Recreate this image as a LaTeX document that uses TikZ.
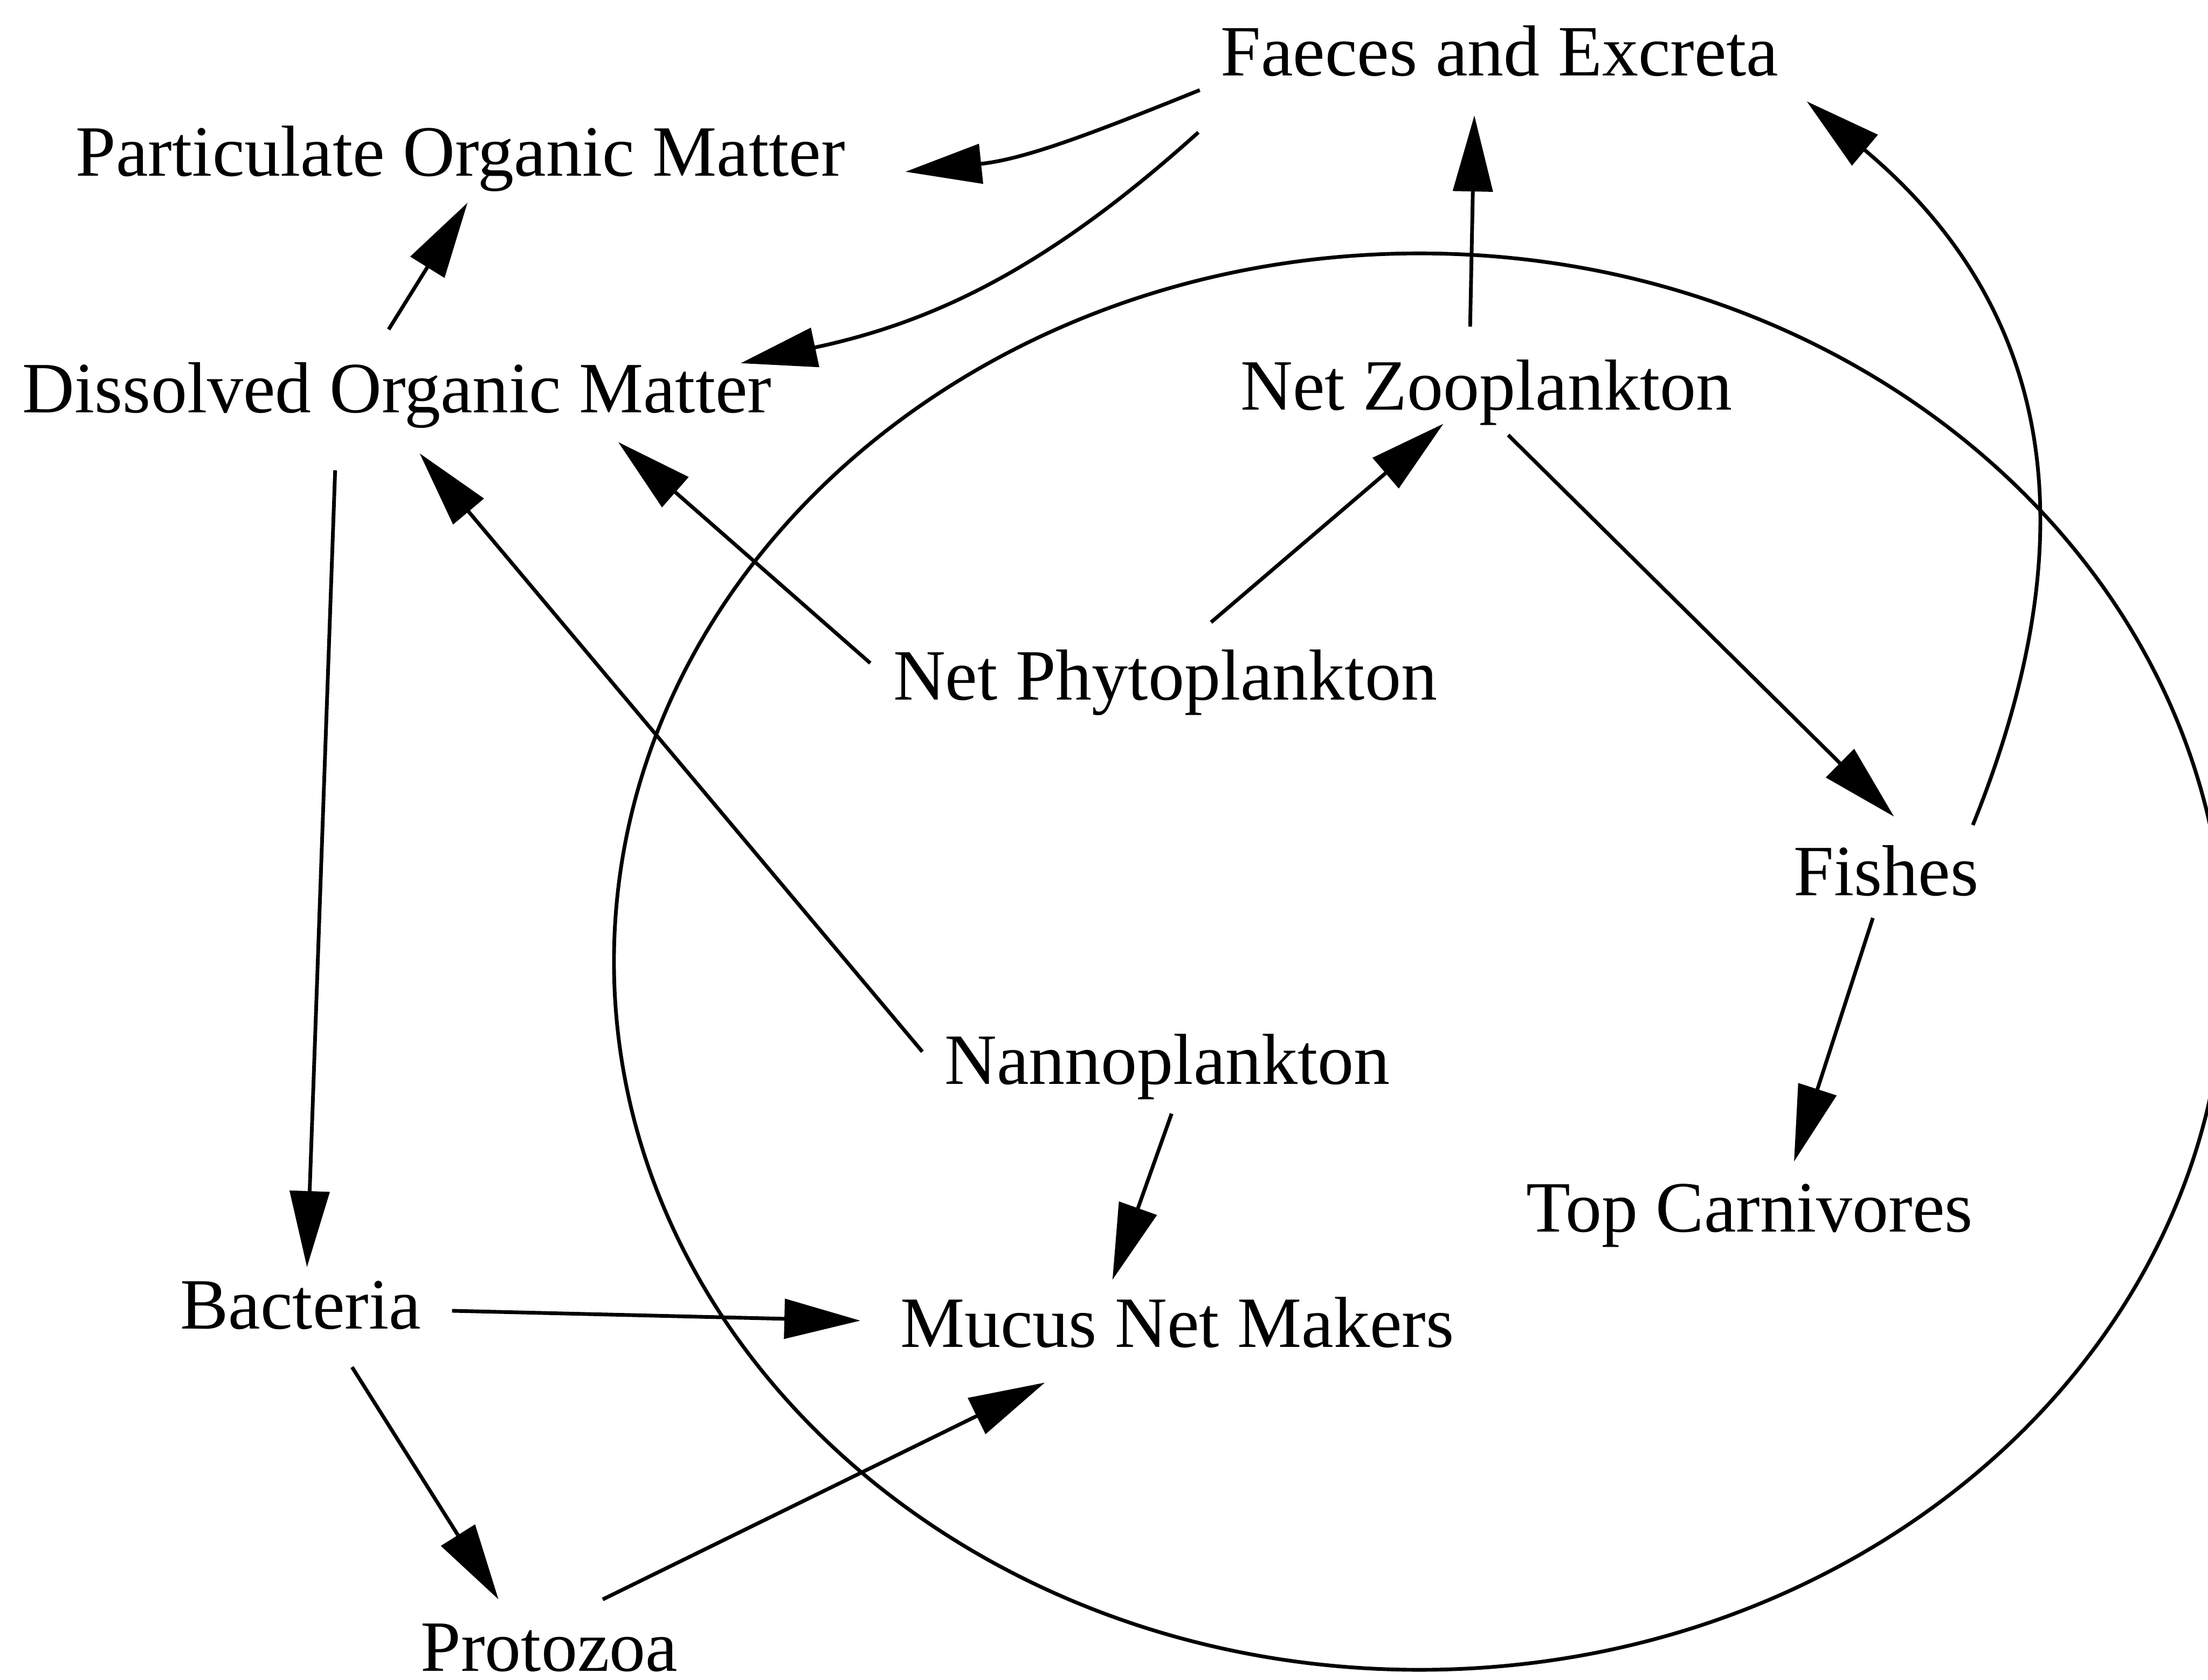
\documentclass[tikz,border=0pt]{standalone}
\usepackage{fontspec}
\setmainfont{Liberation Serif}
\usetikzlibrary{arrows.meta}

\tikzset{
  lbl/.style={anchor=base,inner sep=0pt,font=\fontsize{14.6pt}{17pt}\selectfont},
  arr/.style={line width=0.75pt,-{Triangle[length=5.4mm,width=2.8mm]}}
}

\begin{document}
\begin{tikzpicture}
      \useasboundingbox (0,0) rectangle (15.68,11.93);
      % the big ellipse
      \draw[line width=0.75pt] (10.08,5.10) ellipse [x radius=5.72,y radius=5.03];
      % labels
      \node[lbl] (fae) at (10.65,11.39) {Faeces and Excreta};
      \node[lbl] (pom) at (3.27,10.68) {Particulate Organic Matter};
      \node[lbl] (dom) at (2.82,9.00) {Dissolved Organic Matter};
      \node[lbl] (zoo) at (10.555,9.02) {Net Zooplankton};
      \node[lbl] (phy) at (8.275,6.96) {Net Phytoplankton};
      \node[lbl] (fish) at (13.395,5.57) {Fishes};
      \node[lbl] (nano) at (8.29,4.23) {Nannoplankton};
      \node[lbl] (top) at (12.425,3.18) {Top Carnivores};
      \node[lbl] (bac) at (2.135,2.49) {Bacteria};
      \node[lbl] (muc) at (8.36,2.36) {Mucus Net Makers};
      \node[lbl] (pro) at (3.90,0.06) {Protozoa};
      % arrows
      \draw[arr] ([shift={(-2.13,-0.10)}]fae.base) to[out=202,in=6] ([shift={(3.16,0.03)}]pom.base);
      \draw[arr] ([shift={(-2.14,-0.40)}]fae.base) to[out=222,in=12] ([shift={(2.44,0.35)}]dom.base);
      \draw[arr] ([shift={(-0.06,0.59)}]dom.base) -- ([shift={(0.05,-0.19)}]pom.base);
      \draw[arr] ([shift={(-0.115,0.59)}]zoo.base) -- ([shift={(-0.18,-0.28)}]fae.base);
      \draw[arr] ([shift={(0.615,0.50)}]fish.base) to[out=68,in=-40,looseness=1.1] ([shift={(2.18,-0.18)}]fae.base);
      \draw[arr] ([shift={(-2.095,0.26)}]phy.base) -- ([shift={(1.57,-0.21)}]dom.base);
      \draw[arr] ([shift={(0.325,0.55)}]phy.base) -- ([shift={(-0.305,-0.10)}]zoo.base);
      \draw[arr] ([shift={(0.155,-0.18)}]zoo.base) -- ([shift={(0.055,0.56)}]fish.base);
      \draw[arr] ([shift={(-0.095,-0.16)}]fish.base) -- ([shift={(0.315,0.50)}]top.base);
      \draw[arr] ([shift={(-1.74,0.23)}]nano.base) -- ([shift={(0.16,-0.29)}]dom.base);
      \draw[arr] ([shift={(0.03,-0.21)}]nano.base) -- ([shift={(-0.46,0.48)}]muc.base);
      \draw[arr] ([shift={(-0.44,-0.41)}]dom.base) -- ([shift={(0.045,0.44)}]bac.base);
      \draw[arr] ([shift={(1.075,0.13)}]bac.base) -- ([shift={(-2.25,0.19)}]muc.base);
      \draw[arr] ([shift={(0.365,-0.27)}]bac.base) -- ([shift={(-0.36,0.51)}]pro.base);
      \draw[arr] ([shift={(0.38,0.51)}]pro.base) -- ([shift={(-0.94,-0.25)}]muc.base);
    \end{tikzpicture}
\end{document}
